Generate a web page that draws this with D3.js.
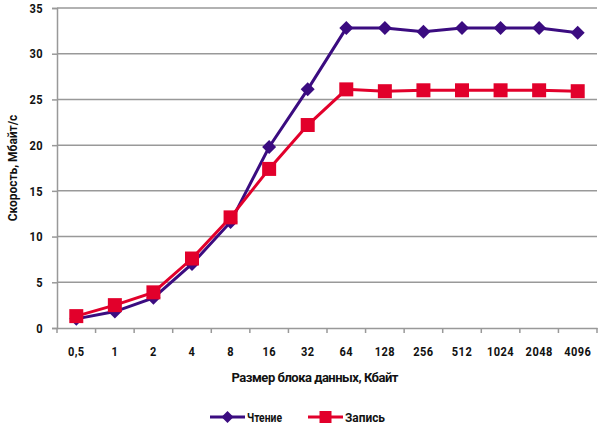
<!DOCTYPE html>
<html>
<head>
<meta charset="utf-8">
<script src="https://cdn.jsdelivr.net/npm/d3@7"></script>
<style>
  body { margin: 0; background: #fff; }
  svg text { font-family: Roboto, "DejaVu Sans", sans-serif; font-weight: bold; fill: #111; }
</style>
</head>
<body>
<div class="canvas"></div>
<script>
// data
const sizes = ['0,5', '1', '2', '4', '8', '16', '32', '64', '128', '256', '512', '1024', '2048', '4096'];
const readSpeed = [1.0, 1.8, 3.3, 7.0, 11.6, 19.8, 26.1, 32.8, 32.8, 32.4, 32.8, 32.8, 32.8, 32.3];
const writeSpeed = [1.3, 2.5, 3.9, 7.6, 12.1, 17.4, 22.2, 26.1, 25.9, 26.0, 26.0, 26.0, 26.0, 25.9];
const yTicks = [0, 5, 10, 15, 20, 25, 30, 35];

const svg = d3.select('.canvas')
    .append('svg')
    .attr('width', 600)
    .attr('height', 426);

// create margins and dimensions
const margin = {top: 8, right: 3, bottom: 98, left: 57};
const graphWidth = 600 - margin.left - margin.right;
const graphHeight = 426 - margin.top - margin.bottom;

const graph = svg.append('g')
    .attr('transform', `translate(${margin.left}, ${margin.top})`);

// narrow the text to look like the condensed face of the original
const squeeze = (sel, factor) => sel.each(function() {
    const w = this.getComputedTextLength();
    d3.select(this)
        .attr('textLength', w * factor)
        .attr('lengthAdjust', 'spacingAndGlyphs');
});

// scales
const x = d3.scaleBand()
    .domain(sizes)
    .range([0, graphWidth]);

const y = d3.scaleLinear()
    .domain([0, 35])
    .range([graphHeight, 0]);

// gridlines
graph.append('g')
    .selectAll('line')
    .data(yTicks.slice(1))
    .enter()
    .append('line')
    .attr('x1', 0)
    .attr('x2', graphWidth)
    .attr('y1', d => y(d))
    .attr('y2', d => y(d))
    .attr('stroke', '#999')
    .attr('stroke-width', 1.5);

// axes
const yAxis = d3.axisLeft(y).tickValues(yTicks).tickSize(5).tickPadding(9);
const yAxisGroup = graph.append('g').call(yAxis);

const xAxis = d3.axisBottom(x).tickSize(0).tickPadding(19);
const xAxisGroup = graph.append('g')
    .attr('transform', `translate(0, ${graphHeight})`)
    .call(xAxis);

// x tick marks sit between categories
xAxisGroup.selectAll('.sep')
    .data(d3.range(sizes.length + 1))
    .enter()
    .append('line')
    .attr('x1', i => i * x.step())
    .attr('x2', i => i * x.step())
    .attr('y1', 0)
    .attr('y2', 5)
    .attr('stroke', '#999')
    .attr('stroke-width', 1.5);

[yAxisGroup, xAxisGroup].forEach(g => {
    g.select('.domain').attr('stroke', '#999').attr('stroke-width', 1.5);
    g.selectAll('.tick line').attr('stroke', '#999').attr('stroke-width', 1.5);
    g.selectAll('text').attr('font-size', 13).style('letter-spacing', '0.5px').call(squeeze, 0.85);
});

// axis titles
svg.append('text')
    .attr('x', 315)
    .attr('y', 382)
    .attr('text-anchor', 'middle')
    .attr('font-size', 13)
    .attr('textLength', 167)
    .attr('lengthAdjust', 'spacing')
    .text('Размер блока данных, Кбайт');

svg.append('text')
    .attr('transform', 'translate(17, 168) rotate(-90)')
    .attr('text-anchor', 'middle')
    .attr('font-size', 13)
    .text('Скорость,  Мбайт/с')
    .call(squeeze, 0.92);

// series
const diamond = {
    draw(context, size) {
        const r = Math.sqrt(size / 2);
        context.moveTo(0, -r);
        context.lineTo(r, 0);
        context.lineTo(0, r);
        context.lineTo(-r, 0);
        context.closePath();
    }
};

const series = [
    {name: 'Чтение', values: readSpeed, color: '#3b0c80', symbol: diamond, size: 98, legendSize: 72, textW: 35},
    {name: 'Запись', values: writeSpeed, color: '#e2002b', symbol: d3.symbolSquare, size: 196, legendSize: 144, textW: 40}
];

const line = d3.line()
    .x((d, i) => x(sizes[i]) + x.bandwidth() / 2)
    .y(d => y(d));

series.forEach(s => {
    graph.append('path')
        .datum(s.values)
        .attr('fill', 'none')
        .attr('stroke', s.color)
        .attr('stroke-width', 3)
        .attr('d', line);

    graph.append('g')
        .selectAll('path')
        .data(s.values)
        .enter()
        .append('path')
        .attr('d', d3.symbol().type(s.symbol).size(s.size))
        .attr('fill', s.color)
        .attr('transform', (d, i) => `translate(${x(sizes[i]) + x.bandwidth() / 2}, ${y(d)})`);
});

// legend
const legendX = [210, 308];
series.forEach((s, i) => {
    const g = svg.append('g').attr('transform', `translate(${legendX[i]}, 417)`);
    g.append('line')
        .attr('x1', 0).attr('x2', 35)
        .attr('stroke', s.color).attr('stroke-width', 3);
    g.append('path')
        .attr('d', d3.symbol().type(s.symbol).size(s.legendSize))
        .attr('fill', s.color)
        .attr('transform', 'translate(17.5, 0)');
    g.append('text')
        .attr('x', 37)
        .attr('y', 5)
        .attr('font-size', 13)
        .attr('textLength', s.textW)
        .attr('lengthAdjust', 'spacingAndGlyphs')
        .text(s.name);
});
</script>
</body>
</html>
